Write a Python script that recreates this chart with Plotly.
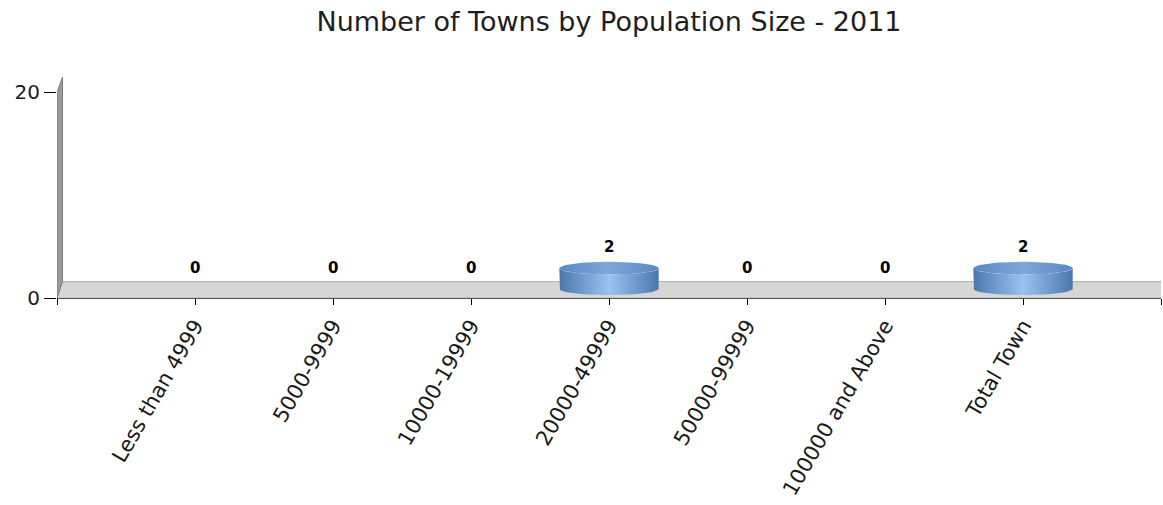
import numpy as np
import plotly.graph_objects as go

# ---- data ----
categories = ["Less than 4999", "5000-9999", "10000-19999", "20000-49999",
              "50000-99999", "100000 and Above", "Total Town"]
towns = [0, 0, 0, 2, 0, 0, 2]
title_text = "Number of Towns by Population Size - 2011"
y_ticks = [0, 20]

# ---- style / geometry (in axis units) ----
X_RANGE = [-1, 7]
Y_RANGE = [0, 21.6]
DEPTH_X = 0.04       # 3D depth shift (x units)
DEPTH_Y = 1.6        # 3D depth shift (y units)
CYL_HALF_W = 0.36
CYL_RY = 0.62
CYL_BASE = 0.9

fig = go.Figure()

x_idx = np.arange(len(categories))

# cylinders built from the data values
for xi, v in zip(x_idx, towns):
    if v <= 0:
        continue
    top = CYL_BASE + v
    t = np.linspace(np.pi, 2 * np.pi, 40)
    bx = xi + CYL_HALF_W * np.cos(t)
    by = CYL_BASE + CYL_RY * np.sin(t)
    tx = (xi + CYL_HALF_W * np.cos(t))[::-1]
    ty = (top + CYL_RY * np.sin(t))[::-1]
    body_x = np.concatenate([[xi - CYL_HALF_W], bx, [xi + CYL_HALF_W], tx])
    body_y = np.concatenate([[top], by, [top], ty])
    fig.add_trace(go.Scatter(
        x=body_x, y=body_y, mode="lines", fill="toself",
        line=dict(width=0, color="rgba(0,0,0,0)"),
        fillgradient=dict(type="horizontal",
                          colorscale=[[0, "#4a78ad"], [0.5, "#9cc2ef"], [1, "#4a78ad"]]),
        hoverinfo="skip", showlegend=False))
    ta = np.linspace(0, 2 * np.pi, 80)
    fig.add_trace(go.Scatter(
        x=xi + CYL_HALF_W * np.cos(ta), y=top + CYL_RY * np.sin(ta),
        mode="lines", fill="toself",
        line=dict(width=0, color="rgba(0,0,0,0)"),
        fillgradient=dict(type="horizontal",
                          colorscale=[[0, "#5a88bf"], [0.5, "#7ea8dc"], [1, "#5a88bf"]]),
        hoverinfo="skip", showlegend=False))

# value labels
for xi, v in zip(x_idx, towns):
    fig.add_annotation(x=xi, y=v, text=f"<b>{v}</b>", showarrow=False,
                       yanchor="middle", yshift=30,
                       font=dict(family="DejaVu Sans", size=15, color="#000000"))

# 3D floor and wall
x0, x1 = X_RANGE
floor_path = (f"M {x0},0 L {x1},0 L {x1 + DEPTH_X},{DEPTH_Y} "
              f"L {x0 + DEPTH_X},{DEPTH_Y} Z")
wall_path = (f"M {x0},0 L {x0},{y_ticks[-1]} L {x0 + DEPTH_X},{y_ticks[-1] + DEPTH_Y * 0.93} "
             f"L {x0 + DEPTH_X},{DEPTH_Y} Z")
fig.add_shape(type="path", path=floor_path, xref="x", yref="y", layer="below",
              fillcolor="#d6d6d6", line=dict(color="#b4b4b4", width=1))
fig.add_shape(type="path", path=wall_path, xref="x", yref="y", layer="below",
              fillcolor="#9a9a9a", line=dict(color="#7a7a7a", width=1))

fig.update_layout(
    width=1163, height=505,
    margin=dict(l=57, r=2, t=76, b=207, autoexpand=False),
    paper_bgcolor="white", plot_bgcolor="white",
    showlegend=False,
    title=dict(text=title_text, x=0.5, xref="paper", xanchor="center",
               y=1 - 22 / 505, yref="container", yanchor="middle",
               font=dict(family="DejaVu Sans", size=27, color="#1e1e1e")),
    xaxis=dict(range=X_RANGE, tickmode="array",
               tickvals=list(range(X_RANGE[0], X_RANGE[1] + 1)),
               ticktext=[""] + categories + [""],
               tickangle=-60, ticks="outside", ticklen=6, tickcolor="#000000",
               showline=True, linecolor="#555555", linewidth=1,
               showgrid=False, zeroline=False,
               tickfont=dict(family="DejaVu Sans", size=21, color="#1a1a1a")),
    yaxis=dict(range=Y_RANGE, tickmode="array", tickvals=y_ticks,
               ticks="outside", ticklen=12, tickcolor="#000000",
               showline=False, showgrid=False, zeroline=False,
               tickfont=dict(family="DejaVu Sans", size=20, color="#1a1a2e")),
)

fig.write_html("out.html", config={"displayModeBar": False},
               post_script="document.body.style.margin='0';document.body.style.overflow='hidden';")
